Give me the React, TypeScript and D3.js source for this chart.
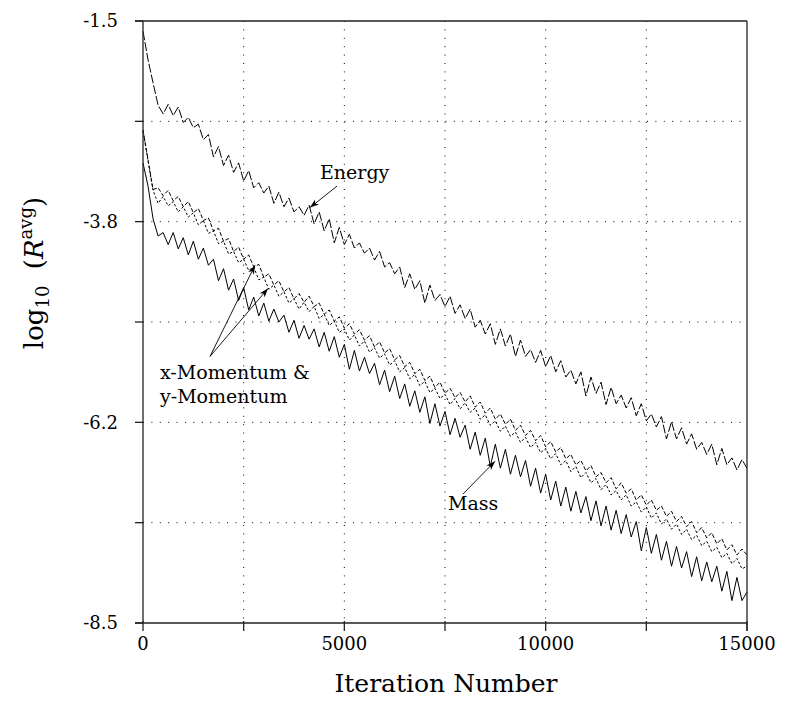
import React from 'react';
import * as d3 from 'd3';

// residual history, sampled every 125 iterations
const iterations = d3.range(0, 15001, 125);

const energy = [
  -1.62, -1.95, -2.22, -2.48, -2.58, -2.47, -2.60, -2.50, -2.68, -2.62,
  -2.74, -2.70, -2.88, -2.82, -3.08, -2.96, -3.18, -3.06, -3.26, -3.15,
  -3.36, -3.24, -3.44, -3.38, -3.50, -3.42, -3.62, -3.49, -3.66, -3.56,
  -3.72, -3.66, -3.76, -3.64, -3.86, -3.72, -3.94, -3.80, -4.08, -3.90,
  -4.10, -3.98, -4.14, -4.08, -4.20, -4.14, -4.28, -4.18, -4.36, -4.31,
  -4.44, -4.36, -4.60, -4.44, -4.62, -4.52, -4.78, -4.57, -4.75, -4.68,
  -4.82, -4.70, -4.90, -4.80, -4.96, -4.85, -5.06, -4.98, -5.14, -5.02,
  -5.26, -5.08, -5.28, -5.14, -5.40, -5.21, -5.40, -5.32, -5.47, -5.33,
  -5.52, -5.39, -5.58, -5.45, -5.64, -5.56, -5.72, -5.58, -5.86, -5.64,
  -5.83, -5.70, -5.96, -5.76, -5.95, -5.85, -6.00, -5.88, -6.09, -5.95,
  -6.15, -6.07, -6.22, -6.10, -6.36, -6.16, -6.36, -6.23, -6.42, -6.30,
  -6.48, -6.40, -6.54, -6.42, -6.66, -6.47, -6.66, -6.58, -6.72, -6.60,
  -6.70,
];

const xMomentum = [
  -2.77, -3.11, -3.46, -3.44, -3.53, -3.47, -3.59, -3.54, -3.66, -3.60,
  -3.73, -3.68, -3.82, -3.79, -3.94, -3.91, -4.06, -4.03, -4.18, -4.13,
  -4.27, -4.22, -4.36, -4.33, -4.48, -4.44, -4.57, -4.52, -4.65, -4.60,
  -4.73, -4.67, -4.77, -4.70, -4.82, -4.78, -4.91, -4.86, -4.99, -4.94,
  -5.07, -5.02, -5.14, -5.09, -5.21, -5.16, -5.29, -5.23, -5.36, -5.31,
  -5.44, -5.39, -5.52, -5.47, -5.60, -5.55, -5.68, -5.63, -5.76, -5.70,
  -5.83, -5.77, -5.88, -5.82, -5.93, -5.86, -5.99, -5.93, -6.06, -6.00,
  -6.13, -6.07, -6.19, -6.13, -6.26, -6.20, -6.32, -6.26, -6.38, -6.32,
  -6.45, -6.39, -6.51, -6.46, -6.59, -6.54, -6.66, -6.61, -6.73, -6.67,
  -6.80, -6.75, -6.87, -6.81, -6.94, -6.87, -6.99, -6.94, -7.07, -7.01,
  -7.13, -7.07, -7.19, -7.14, -7.26, -7.20, -7.32, -7.26, -7.38, -7.32,
  -7.45, -7.39, -7.51, -7.45, -7.58, -7.52, -7.65, -7.59, -7.71, -7.64,
  -7.71,
];

const yMomentum = [
  -2.77, -3.13, -3.47, -3.62, -3.54, -3.65, -3.60, -3.72, -3.66, -3.78,
  -3.73, -3.87, -3.82, -3.97, -3.94, -4.09, -4.06, -4.21, -4.18, -4.31,
  -4.27, -4.40, -4.36, -4.51, -4.48, -4.62, -4.57, -4.70, -4.65, -4.78,
  -4.73, -4.85, -4.77, -4.88, -4.82, -4.96, -4.91, -5.04, -4.99, -5.12,
  -5.08, -5.21, -5.15, -5.28, -5.22, -5.35, -5.30, -5.42, -5.37, -5.50,
  -5.45, -5.58, -5.53, -5.66, -5.61, -5.74, -5.69, -5.82, -5.77, -5.89,
  -5.84, -5.96, -5.89, -6.01, -5.94, -6.05, -6.00, -6.13, -6.08, -6.20,
  -6.15, -6.27, -6.21, -6.33, -6.28, -6.40, -6.34, -6.46, -6.40, -6.52,
  -6.47, -6.59, -6.53, -6.66, -6.61, -6.74, -6.68, -6.81, -6.75, -6.87,
  -6.82, -6.95, -6.89, -7.01, -6.96, -7.07, -7.01, -7.14, -7.09, -7.21,
  -7.15, -7.28, -7.22, -7.35, -7.29, -7.41, -7.35, -7.47, -7.41, -7.53,
  -7.48, -7.60, -7.55, -7.67, -7.62, -7.74, -7.69, -7.81, -7.75, -7.87,
  -7.84,
];

const mass = [
  -3.15, -3.42, -3.80, -4.00, -3.96, -4.10, -3.96, -4.15, -4.02, -4.22,
  -4.06, -4.27, -4.14, -4.34, -4.27, -4.52, -4.38, -4.63, -4.50, -4.75,
  -4.60, -4.86, -4.71, -4.93, -4.78, -4.99, -4.85, -5.00, -4.92, -5.12,
  -4.98, -5.19, -5.04, -5.20, -5.08, -5.29, -5.12, -5.34, -5.17, -5.41,
  -5.26, -5.55, -5.33, -5.57, -5.41, -5.60, -5.48, -5.73, -5.56, -5.81,
  -5.63, -5.89, -5.72, -5.98, -5.80, -6.05, -5.87, -6.18, -5.95, -6.21,
  -6.04, -6.31, -6.12, -6.34, -6.20, -6.48, -6.28, -6.55, -6.35, -6.68,
  -6.42, -6.70, -6.48, -6.77, -6.55, -6.80, -6.61, -6.91, -6.70, -6.99,
  -6.77, -7.07, -6.85, -7.14, -6.92, -7.20, -6.97, -7.22, -7.03, -7.31,
  -7.08, -7.37, -7.14, -7.42, -7.19, -7.46, -7.24, -7.50, -7.32, -7.66,
  -7.39, -7.69, -7.47, -7.77, -7.55, -7.84, -7.61, -7.86, -7.67, -7.96,
  -7.73, -8.01, -7.79, -8.02, -7.84, -8.13, -7.90, -8.24, -7.97, -8.24,
  -8.14,
];

const xTicks = [0, 2500, 5000, 7500, 10000, 12500, 15000];
const xTickLabels = ['0', '', '5000', '', '10000', '', '15000'];
const yTicks = [-1.5, -2.6667, -3.8333, -5, -6.1667, -7.3333, -8.5];
const yTickLabels = ['-1.5', '', '-3.8', '', '-6.2', '', '-8.5'];

const W = 786;
const H = 715;
const left = 143;
const right = 747;
const top = 21;
const bottom = 623;
const font = '"DejaVu Serif", "Liberation Serif", serif';

export default function App() {
  const x = d3.scaleLinear().domain([0, 15000]).range([left, right]);
  const y = d3.scaleLinear().domain([-8.5, -1.5]).range([bottom, top]);

  const line = d3.line<number>()
    .x((_, i) => x(iterations[i]))
    .y(d => y(d));

  const series = [
    { name: 'Energy', values: energy, dash: '9,2' },
    { name: 'x-Momentum', values: xMomentum, dash: '4,2' },
    { name: 'y-Momentum', values: yMomentum, dash: '2.5,2' },
    { name: 'Mass', values: mass, dash: undefined },
  ];

  // annotation arrows, in data coordinates [iteration, log10 R]
  const arrows = [
    { from: [4818, -3.42], to: [4147, -3.67] },
    { from: [1664, -5.40], to: [2781, -4.34] },
    { from: [1664, -5.40], to: [3104, -4.61] },
    { from: [7947, -7.00], to: [8742, -6.62] },
  ];

  return (
    <svg width={W} height={H} style={{ position: 'absolute', left: 0, top: 0, background: '#fff' }}
      fontFamily={font}>
      <defs>
        <marker id="arr" markerUnits="userSpaceOnUse" markerWidth={10} markerHeight={8}
          refX={9} refY={4} orient="auto">
          <path d="M0,0.8 L9,4 L0,7.2 L2.5,4 Z" fill="#000" />
        </marker>
      </defs>

      {/* grid */}
      {xTicks.slice(1, -1).map(t => (
        <line key={'gx' + t} x1={x(t)} x2={x(t)} y1={top} y2={bottom}
          stroke="#000" strokeWidth={1} strokeDasharray="1,7.4" />
      ))}
      {yTicks.slice(1, -1).map(t => (
        <line key={'gy' + t} x1={left} x2={right} y1={y(t)} y2={y(t)}
          stroke="#000" strokeWidth={1} strokeDasharray="1,7.4" />
      ))}

      {/* series */}
      {series.map(s => (
        <path key={s.name} d={line(s.values) || ''} fill="none" stroke="#000"
          strokeWidth={1} strokeDasharray={s.dash} strokeLinejoin="round" />
      ))}

      {/* frame */}
      <line x1={left - 8} x2={right} y1={top} y2={top} stroke="#222" strokeWidth={1.3} />
      <line x1={left - 8} x2={right} y1={bottom} y2={bottom} stroke="#222" strokeWidth={1.3} />
      <line x1={left} x2={left} y1={top} y2={bottom} stroke="#222" strokeWidth={1.3} />
      <line x1={right} x2={right} y1={top} y2={bottom + 8} stroke="#222" strokeWidth={1.3} />

      {/* y ticks */}
      {yTicks.map((t, i) => (
        <g key={'yt' + t}>
          <line x1={left - 8} x2={left} y1={y(t)} y2={y(t)} stroke="#222" strokeWidth={1.3} />
          <text x={118} y={y(t)} dy="0.35em" textAnchor="end" fontSize={18}>{yTickLabels[i]}</text>
        </g>
      ))}

      {/* x ticks */}
      {xTicks.map((t, i) => (
        <g key={'xt' + t}>
          <line x1={x(t)} x2={x(t)} y1={bottom - 2} y2={bottom + 8} stroke="#222" strokeWidth={1.3} />
          <text x={x(t)} y={650} textAnchor="middle" fontSize={18}>{xTickLabels[i]}</text>
        </g>
      ))}

      {/* axis titles */}
      <text x={446} y={692} textAnchor="middle" fontSize={25}>Iteration Number</text>
      <text transform="translate(43,273) rotate(-90)" textAnchor="middle" fontSize={26}>
        log<tspan fontSize={18} dy={6}>10</tspan>
        <tspan dy={-6}>{'\u00a0\u00a0('}</tspan>
        <tspan fontStyle="italic">R</tspan>
        <tspan fontSize={18} dy={-11}>avg</tspan>
        <tspan dy={11}>)</tspan>
      </text>

      {/* annotations */}
      {arrows.map((a, i) => (
        <line key={'ar' + i} x1={x(a.from[0])} y1={y(a.from[1])} x2={x(a.to[0])} y2={y(a.to[1])}
          stroke="#000" strokeWidth={0.9} markerEnd="url(#arr)" />
      ))}
      <text x={x(4396)} y={y(-3.334)} fontSize={19}>Energy</text>
      <text x={x(422)} y={y(-5.668)} fontSize={19}>x-Momentum &amp;</text>
      <text x={x(422)} y={y(-5.946)} fontSize={19}>y-Momentum</text>
      <text x={x(7574)} y={y(-7.188)} fontSize={19}>Mass</text>
    </svg>
  );
}
